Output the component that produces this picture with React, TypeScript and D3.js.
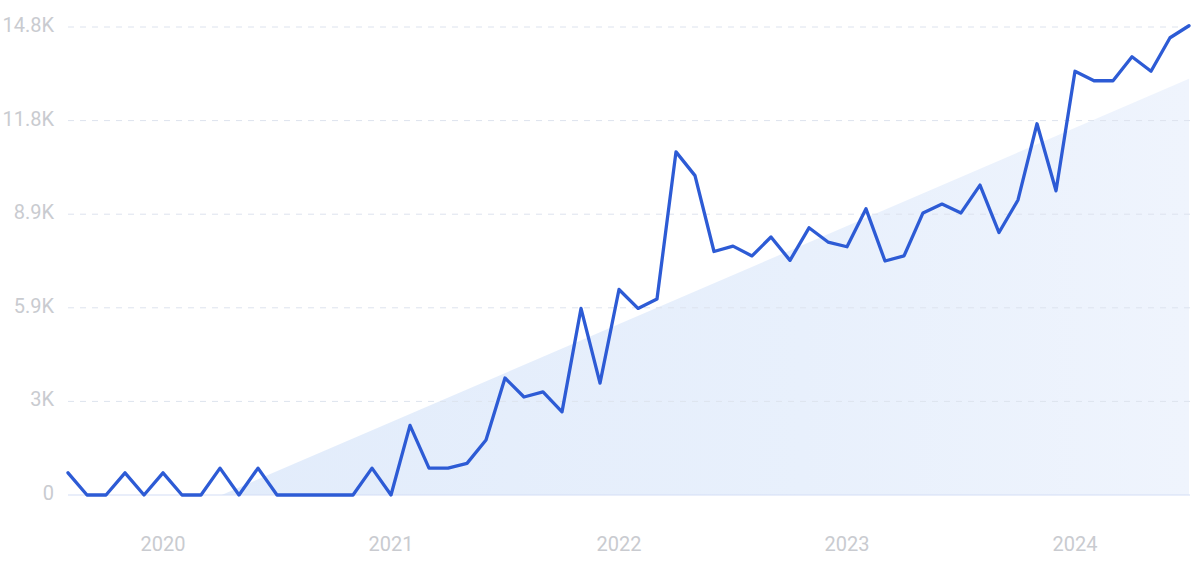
import React from "react";
import * as d3 from "d3";

const values: number[] = [
  700, 0, 0, 700, 0, 700, 0, 0, 850, 0, 850, 0,
  0, 0, 0, 0, 850, 0, 2200, 850, 850, 1000, 1740, 3700,
  3100, 3260, 2630, 5900, 3540, 6500, 5900, 6200, 10850, 10100, 7700, 7870,
  7560, 8160, 7420, 8450, 8000, 7850, 9050, 7400, 7560, 8920, 9200, 8920,
  9800, 8300, 9330, 11740, 9620, 13400, 13100, 13100, 13860, 13400, 14460, 14840,
];
const yTicks: number[] = [0, 2960, 5920, 8880, 11840, 14800];
const yearLabels: string[] = ["2020", "2021", "2022", "2023", "2024"];
const yearIndex: number[] = [5, 17, 29, 41, 53];
// trend line values at first and last month
const trendStart = -2090;
const trendEnd = 13160;

const W = 1200;
const H = 564;
const left = 68;
const right = 1190;
const top = 27;
const bottom = 495;

function fmt(v: number): string {
  if (v === 0) return "0";
  const k = Math.round(v / 100) / 10;
  return (Number.isInteger(k) ? k.toFixed(0) : k.toFixed(1)) + "K";
}

export default function App() {
  const n = values.length;
  const x = d3.scaleLinear().domain([0, n - 1]).range([left, right - 1]);
  const y = d3.scaleLinear().domain([0, 14800]).range([bottom, top]);
  const line = d3
    .line<number>()
    .x((_, i) => x(i))
    .y((d) => y(d))
    .curve(d3.curveLinear);

  const slope = (trendEnd - trendStart) / (n - 1);
  const zeroIdx = -trendStart / slope;
  const trendPts: [number, number][] = [
    [Math.max(0, zeroIdx), 0],
    [n - 1, trendEnd],
  ];
  const area = d3
    .area<[number, number]>()
    .x((d) => x(d[0]))
    .y0(y(0))
    .y1((d) => y(d[1]));

  return (
    <svg
      width={W}
      height={H}
      style={{ position: "absolute", left: 0, top: 0, background: "#fff" }}
      fontFamily="Roboto, Inter, 'Noto Sans', sans-serif"
    >
      <defs>
        <linearGradient id="trendGrad" x1="0" y1="0" x2="1" y2="0">
          <stop offset="0%" stopColor="#e2ecfb" />
          <stop offset="60%" stopColor="#e8f0fc" />
          <stop offset="100%" stopColor="#eff4fd" />
        </linearGradient>
      </defs>
      <path d={area(trendPts) || ""} fill="url(#trendGrad)" />
      {yTicks.map((t) =>
        t === 0 ? null : (
          <line
            key={"g" + t}
            x1={left}
            x2={right}
            y1={y(t)}
            y2={y(t)}
            stroke="#dde3ee"
            strokeWidth={1}
            strokeDasharray="6,6"
          />
        )
      )}
      <line x1={left} x2={right} y1={y(0)} y2={y(0)} stroke="#d3def5" strokeWidth={1.2} />
      {yTicks.map((t) => (
        <text
          key={"t" + t}
          x={54}
          y={y(t) - 2}
          textAnchor="end"
          dominantBaseline="central"
          fontSize={20}
          fill="#c9cbd0"
        >
          {fmt(t)}
        </text>
      ))}
      {yearLabels.map((lab, i) => (
        <text
          key={lab}
          x={x(yearIndex[i])}
          y={544}
          textAnchor="middle"
          dominantBaseline="central"
          fontSize={20}
          fill="#c9cbd0"
        >
          {lab}
        </text>
      ))}
      <path
        d={line(values) || ""}
        fill="none"
        stroke="#2d5bd5"
        strokeWidth={3.3}
        strokeLinejoin="round"
        strokeLinecap="round"
      />
    </svg>
  );
}
